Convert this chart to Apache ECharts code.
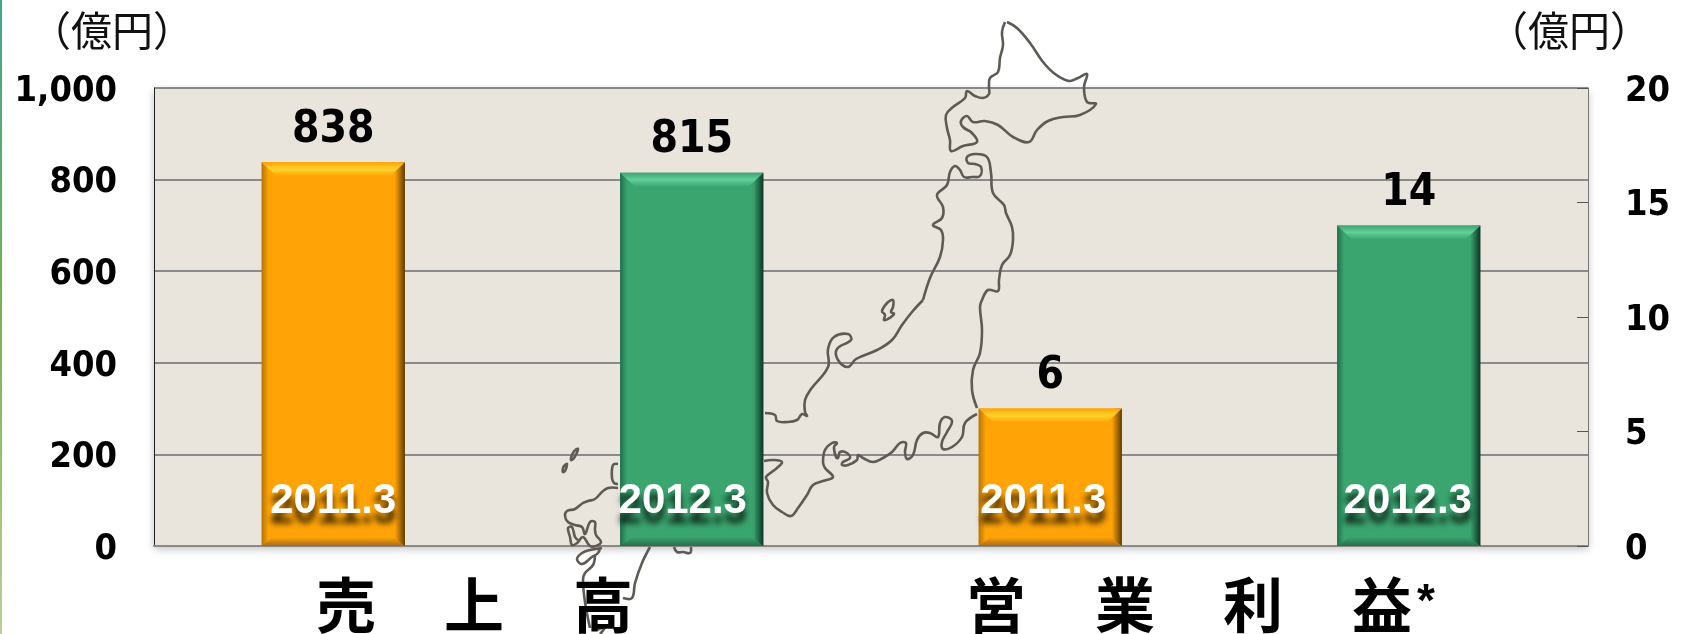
<!DOCTYPE html>
<html lang="ja">
<head>
<meta charset="utf-8">
<title>売上高 / 営業利益</title>
<style>
    html, body {margin: 0; padding: 0; background: #fff;}
    #chart {width: 1685px; height: 634px;}
</style>
<script src="https://cdn.jsdelivr.net/npm/echarts@6/dist/echarts.min.js"></script>
</head>
<body>
<div id="chart"></div>
<script>
const categories = ['2011.3', '2012.3', '2011.3', '2012.3'];
const salesValues = [838, 815, null, null];
const profitValues = [null, null, 6, 14];
const salesTicks = {min: 0, max: 1000, interval: 200};
const profitTicks = {min: 0, max: 20, interval: 5};
const unitLabel = '（億円）';
const salesTitle = ['売', '上', '高'];
const profitTitle = ['営', '業', '利', '益'];

// the year labels are not quite centred on the bars in the original
const yearLabelShift = [0, -9, -7, -1];

const BAR_RATIO = 0.4;
const ORANGE = {base: '#FFA306', left: '#B57406', right: '#5E3B00', top: '#FFD42C', bottom: '#A8691A'};
const GREEN = {base: '#3AA56F', left: '#1F6F4C', right: '#0C3324', top: '#62CF9B', bottom: '#276E4C'};
const barColors = [ORANGE, GREEN, ORANGE, GREEN];

const CJK_FONT = '"Noto Sans CJK JP"';
const NUM_FONT = '"DejaVu Sans Condensed", "DejaVu Sans"';

// background map of Japan, traced by hand: decoration only, not data
const hokkaido = [[1005, 22], [1002, 32], [1003, 45], [1000, 58], [998, 72], [990, 78], [989, 87], [989, 94], [983, 98], [975, 96], [967, 91], [965, 98], [953, 107], [946, 115], [947, 128], [950, 140], [951, 151], [963, 146], [977, 142], [972, 133], [963, 127], [961, 121], [967, 116], [973, 122], [985, 121], [998, 125], [1013, 137], [1029, 142], [1037, 130], [1048, 121], [1063, 117], [1080, 115], [1096, 104], [1087, 102], [1084, 87], [1087, 74], [1078, 78], [1069, 81], [1055, 74], [1043, 62], [1030, 43], [1017, 28], [1007, 22]];
const honshuEast = [[923, 300], [930, 278], [940, 257], [943, 240], [941, 230], [933, 225], [942, 218], [943, 207], [937, 195], [947, 185], [950, 172], [955, 166], [960, 170], [964, 177], [972, 177], [980, 176], [981, 167], [975, 164], [968, 163], [967, 157], [975, 154], [987, 157], [991, 173], [993, 193], [1004, 205], [1006, 213], [1012, 227], [1013, 240], [1010, 255], [1002, 265], [999, 280], [998, 291], [988, 290], [982, 300], [980, 307], [982, 330], [980, 353], [973, 370], [972, 390], [977, 408]];
const honshuWest = [[923, 300], [912, 312], [902, 325], [892, 340], [877, 350], [856, 359], [848, 367], [838, 360], [837, 349], [851, 340], [848, 334], [834, 337], [828, 349], [828, 367], [811, 389], [805, 400], [805, 412], [807, 416], [802, 414], [797, 420], [787, 422], [777, 421], [775, 415], [765, 413]];
const honshuSouth = [[977, 414], [965, 423], [962, 437], [952, 447], [943, 449], [942, 442], [947, 432], [952, 421], [945, 417], [940, 423], [938, 437], [930, 433], [923, 433], [917, 440], [913, 455], [907, 459], [905, 452], [906, 443], [900, 443], [892, 452], [883, 458], [873, 462], [863, 458], [858, 455], [857, 460], [848, 465], [842, 465], [843, 462], [850, 458], [847, 453], [840, 452], [838, 458], [836, 457], [834, 447], [837, 443], [832, 443], [825, 450], [823, 462], [825, 468], [833, 477], [823, 481], [813, 485], [807, 495], [798, 508], [791, 516], [782, 512], [773, 505], [767, 493], [768, 482], [766, 477], [777, 468], [782, 462], [773, 460], [764, 461]];
const shikoku = [[618, 464], [613, 465], [612, 478], [614, 483], [618, 484]];
const kyushuCoast = [[618, 488], [608, 488], [602, 492], [595, 499], [588, 501], [583, 503], [575, 509], [567, 511], [565, 516], [568, 522], [575, 525], [582, 527], [585, 534], [590, 522], [595, 522], [595, 529], [596, 535], [601, 542], [596, 546], [590, 546], [583, 537], [577, 543], [572, 545], [570, 537], [568, 528], [572, 527], [575, 537], [578, 540]];
const kyushuSouth = [[602, 548], [590, 550], [582, 553], [577, 559], [582, 564], [592, 557], [598, 553], [600, 548]];
const southTail = [[595, 555], [593, 565], [585, 573], [583, 580], [585, 602], [590, 628]];
const smallIsland = [[597, 630], [605, 627], [600, 634]];
const islandA = [[575, 450], [578, 449], [574, 458], [571, 460], [572, 455], [575, 450]];
const islandB = [[565, 465], [567, 464], [565, 471], [563, 472], [563, 468], [565, 465]];
const outerLine = [[650, 547], [642, 563], [635, 583], [632, 598], [623, 598]];
const underBar = [[674, 547], [677, 552], [683, 552], [690, 553], [691, 547]];
const sadoIsland = [[888, 302], [893, 300], [893, 307], [891, 312], [894, 314], [888, 319], [884, 320], [885, 315], [882, 311], [888, 302]];
const mapOutlines = [hokkaido, honshuEast, honshuWest, honshuSouth, shikoku, kyushuCoast, kyushuSouth, southTail, smallIsland, islandA, islandB, outerLine, underBar, sadoIsland];

function mapGraphics() {
    return mapOutlines.map(points => ({
        type: 'polyline',
        silent: true,
        z: 1,
        shape: {points: points, smooth: 0.4},
        style: {stroke: '#5E5A54', lineWidth: 2.6, fill: null}
    }));
}

function titleGraphics(chars, positions) {
    return chars.map((ch, i) => ({
        type: 'text',
        z: 5,
        x: positions[i],
        y: 605,
        style: {text: ch, fill: '#000', font: 'bold 60px ' + CJK_FONT, align: 'center', verticalAlign: 'middle'}
    }));
}

function unitGraphic(x) {
    return {
        type: 'text',
        z: 5,
        x: x,
        y: 30,
        style: {text: unitLabel, fill: '#111', font: '41px ' + CJK_FONT, align: 'center', verticalAlign: 'middle'}
    };
}

function verticalGradient(stops) {
    return {
        type: 'linear', x: 0, y: 0, x2: 0, y2: 1,
        colorStops: stops.map((color, i) => ({offset: i / (stops.length - 1), color: color}))
    };
}

// bevel edges and the year label, placed through the axes of the chart
function renderBevel(params, api) {
    const index = api.value(0);
    const colors = barColors[index];
    const width = api.size([1, 0])[0] * BAR_RATIO;
    const top = api.coord([index, api.value(1)]);
    const base = api.coord([index, 0]);
    const left = top[0] - width / 2;
    const right = top[0] + width / 2;
    const inset = 15;
    return {
        type: 'group',
        children: [{
            type: 'polygon',
            shape: {points: [[left, top[1]], [right, top[1]], [right - inset, top[1] + 14], [left + inset, top[1] + 14]]},
            style: {fill: verticalGradient([colors.base, colors.top, colors.base])}
        }, {
            type: 'polygon',
            shape: {points: [[left, base[1]], [right, base[1]], [right - 12, base[1] - 9], [left + 12, base[1] - 9]]},
            style: {fill: verticalGradient([colors.base, colors.bottom])}
        }, {
            type: 'text',
            x: top[0] + yearLabelShift[index],
            y: 501,
            style: {
                text: categories[index],
                fill: '#fff',
                font: 'bold 42px "Liberation Sans"',
                align: 'center',
                verticalAlign: 'middle',
                textShadowColor: 'rgba(0,0,0,0.8)',
                textShadowBlur: 6,
                textShadowOffsetY: 10
            }
        }]
    };
}

function barData(values) {
    return values.map((value, i) => ({
        value: value,
        itemStyle: {
            color: {
                type: 'linear', x: 0, y: 0, x2: 1, y2: 0,
                colorStops: [
                    {offset: 0, color: barColors[i].left},
                    {offset: 0.05, color: barColors[i].base},
                    {offset: 0.93, color: barColors[i].base},
                    {offset: 1, color: barColors[i].right}
                ]
            }
        }
    }));
}

function bevelData(values) {
    return values.map((value, i) => [i, value]).filter(item => item[1] !== null);
}

function barSeries(values, yAxisIndex) {
    return {
        type: 'bar',
        yAxisIndex: yAxisIndex,
        barWidth: (BAR_RATIO * 100) + '%',
        barGap: '-100%',
        z: 2,
        data: barData(values),
        label: {
            show: true,
            position: 'top',
            distance: 10,
            color: '#000',
            fontFamily: NUM_FONT,
            fontWeight: 'bold',
            fontSize: 44
        }
    };
}

function bevelSeries(values, yAxisIndex) {
    return {
        type: 'custom',
        yAxisIndex: yAxisIndex,
        z: 3,
        silent: true,
        encode: {x: 0, y: 1},
        renderItem: renderBevel,
        data: bevelData(values)
    };
}

// top aligned with a short line height: sits the digits a little below the gridline
const tickLabel = {
    margin: 37,
    color: '#000',
    fontFamily: NUM_FONT,
    fontWeight: 'bold',
    fontSize: 36,
    verticalAlign: 'top',
    lineHeight: 7
};

const option = {
    animation: false,
    backgroundColor: '#fff',
    grid: {
        show: true,
        left: 154,
        right: 97,
        top: 88,
        bottom: 88,
        backgroundColor: '#E9E5DD',
        borderWidth: 0,
        shadowColor: 'rgba(0,0,0,0.25)',
        shadowBlur: 8,
        shadowOffsetY: 3
    },
    xAxis: {
        type: 'category',
        data: categories,
        axisLine: {lineStyle: {color: '#8A8A8A', width: 2}},
        axisTick: {show: false},
        axisLabel: {show: false}
    },
    yAxis: [{
        type: 'value',
        min: salesTicks.min,
        max: salesTicks.max,
        interval: salesTicks.interval,
        axisLine: {show: true, lineStyle: {color: '#222', width: 1}},
        axisTick: {show: false},
        axisLabel: tickLabel,
        splitLine: {lineStyle: {color: '#8A8A8A', width: 2}}
    }, {
        type: 'value',
        position: 'right',
        min: profitTicks.min,
        max: profitTicks.max,
        interval: profitTicks.interval,
        axisLine: {show: true, lineStyle: {color: '#777', width: 1}},
        axisTick: {show: true, inside: true, length: 11, lineStyle: {color: '#555', width: 1}},
        axisLabel: Object.assign({}, tickLabel, {align: 'left'}),
        splitLine: {show: false}
    }],
    series: [
        barSeries(salesValues, 0),
        barSeries(profitValues, 1),
        bevelSeries(salesValues, 0),
        bevelSeries(profitValues, 1)
    ],
    graphic: [{
        type: 'rect',
        z: 5,
        shape: {x: 0, y: 0, width: 2, height: 634},
        style: {fill: verticalGradient(['#3BA98C', '#7BB153', '#B7D197'])}
    }, unitGraphic(112), unitGraphic(1569)]
        .concat(mapGraphics())
        .concat(titleGraphics(salesTitle, [346, 474, 603]))
        .concat(titleGraphics(profitTitle, [996, 1125, 1253, 1382]))
        .concat([{
            type: 'text',
            z: 5,
            x: 1426,
            y: 603,
            style: {text: '*', fill: '#000', font: 'bold 46px "Liberation Sans"', align: 'center', verticalAlign: 'middle'}
        }])
};

const chart = echarts.init(document.getElementById('chart'));
chart.setOption(option);
</script>
</body>
</html>
